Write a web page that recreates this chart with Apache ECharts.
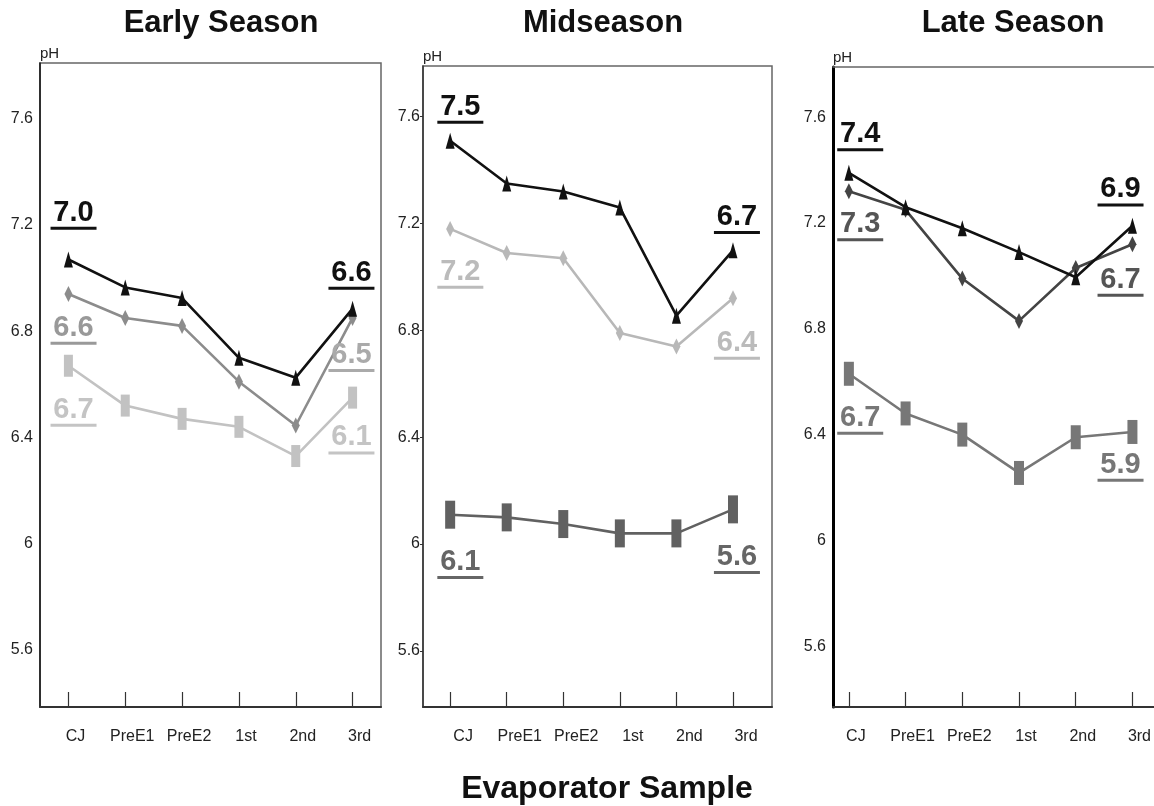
<!DOCTYPE html>
<html>
<head>
<meta charset="UTF-8" />
<title>Evaporator pH by season</title>
<script src="https://cdn.jsdelivr.net/npm/echarts@6/dist/echarts.min.js"></script>
<style>
  html, body { margin: 0; padding: 0; background: #fff; }
  #chart { width: 1154px; height: 806px; }
</style>
</head>
<body>
<div id="chart"></div>
<script>
// categories on the x axis
var categories = ['CJ', 'PreE1', 'PreE2', '1st', '2nd', '3rd'];
var panelTitles = ['Early Season', 'Midseason', 'Late Season'];
var yTicks = [5.6, 6, 6.4, 6.8, 7.2, 7.6];

// pH readings, one array per line (triangle / diamond / bar marker)
var earlyTri = [7.07, 6.965, 6.925, 6.70, 6.625, 6.885];
var earlyDia = [6.94, 6.85, 6.82, 6.61, 6.445, 6.85];
var earlySq  = [6.67, 6.52, 6.47, 6.44, 6.33, 6.55];

var midTri = [7.51, 7.35, 7.32, 7.26, 6.855, 7.10];
var midDia = [7.18, 7.09, 7.07, 6.79, 6.74, 6.92];
var midSq  = [6.11, 6.10, 6.075, 6.04, 6.04, 6.13];

var lateTri = [7.39, 7.26, 7.18, 7.09, 6.995, 7.19];
var lateDia = [7.32, 7.25, 6.99, 6.83, 7.03, 7.12];
var lateSq  = [6.63, 6.48, 6.40, 6.255, 6.39, 6.41];

// underlined numbers printed beside the lines: [left, right] per line
var earlyNotes = [['7.0', '6.6'], ['6.6', '6.5'], ['6.7', '6.1']];
var midNotes   = [['7.5', '6.7'], ['7.2', '6.4'], ['6.1', '5.6']];
var lateNotes  = [['7.4', '6.9'], ['7.3', '6.7'], ['6.7', '5.9']];
// where those numbers sit (pH units), [left, right] per line
var earlyNoteY = [[7.246, 7.02], [6.813, 6.71], [6.504, 6.40]];
var midNoteY   = [[7.637, 7.225], [7.02, 6.754], [5.933, 5.952]];
var lateNoteY  = [[7.536, 7.327], [7.195, 6.986], [6.464, 6.286]];

var panels = [
  { tri: earlyTri, dia: earlyDia, sq: earlySq, notes: earlyNotes, noteY: earlyNoteY,
    colors: ['#111', '#8c8c8c', '#c2c2c2'], noteColors: [['#111', '#111'], ['#999', '#aaa'], ['#c4c4c4', '#c4c4c4']],
    grid: { left: 40, top: 63, width: 341, height: 644 }, xr: [-0.5, 5.5], yr: [5.385, 7.81], box: true,
    noteX: [0.09, 4.98], sqSize: [9, 22], labelShift: 14, yAxisColor: '#111', yAxisWidth: 1.5, yTick: false },
  { tri: midTri, dia: midDia, sq: midSq, notes: midNotes, noteY: midNoteY,
    colors: ['#111', '#b8b8b8', '#616161'], noteColors: [['#111', '#111'], ['#bbb', '#bbb'], ['#666', '#666']],
    grid: { left: 423, top: 66, width: 349, height: 641 }, xr: [-0.48, 5.69], yr: [5.39, 7.79], box: true,
    noteX: [0.18, 5.07], sqSize: [10, 28], labelShift: 26, yAxisColor: '#333', yAxisWidth: 1.5, yTick: true },
  { tri: lateTri, dia: lateDia, sq: lateSq, notes: lateNotes, noteY: lateNoteY,
    colors: ['#111', '#444', '#777'], noteColors: [['#111', '#111'], ['#555', '#555'], ['#777', '#777']],
    grid: { left: 833, top: 67, width: 321, height: 640 }, xr: [-0.28, 5.37], yr: [5.37, 7.79], box: false,
    noteX: [0.2, 4.79], sqSize: [10, 24], labelShift: 14, yAxisColor: '#000', yAxisWidth: 3, yTick: false }
];

function pairs(arr) {
  return arr.map(function (v, i) { return [i, v]; });
}

var chart = echarts.init(document.getElementById('chart'));
var grids = [], xAxes = [], yAxes = [], series = [];
var titleX = [216, 598, 1008];
var titles = panelTitles.map(function (t, i) {
  return { text: t, left: titleX[i], top: 3, textAlign: 'center',
    textStyle: { fontFamily: 'Liberation Sans', fontWeight: 'bold', fontSize: 31, color: '#111' } };
});
titles.push({ text: 'Evaporator Sample', left: 602, top: 768, textAlign: 'center',
  textStyle: { fontFamily: 'Liberation Sans', fontWeight: 'bold', fontSize: 32, color: '#111' } });

panels.forEach(function (p, i) {
  grids.push({ left: p.grid.left, top: p.grid.top, width: p.grid.width, height: p.grid.height,
    show: p.box, borderColor: '#666', borderWidth: 1.5, containLabel: false });
  xAxes.push({
    type: 'value', gridIndex: i, min: p.xr[0], max: p.xr[1],
    axisLine: { show: true, onZero: false, lineStyle: { color: '#333', width: 2 } },
    axisTick: { show: true, inside: true, length: 15, customValues: [0, 1, 2, 3, 4, 5],
      lineStyle: { color: '#333', width: 1.2 } },
    axisLabel: { customValues: [0, 1, 2, 3, 4, 5], margin: 22, fontSize: 16, color: '#222',
      fontFamily: 'Liberation Sans', padding: [0, 0, 0, p.labelShift],
      formatter: function (v) { return categories[Math.round(v)]; } },
    splitLine: { show: false }
  });
  yAxes.push({
    type: 'value', gridIndex: i, min: p.yr[0], max: p.yr[1],
    name: 'pH', nameLocation: 'end', nameGap: 2,
    nameTextStyle: { align: 'left', fontSize: 15, color: '#222', fontFamily: 'Liberation Sans' },
    axisLine: { show: true, onZero: false, lineStyle: { color: p.yAxisColor, width: p.yAxisWidth } },
    axisTick: { show: p.yTick, length: 3, customValues: yTicks, lineStyle: { color: '#333' } },
    axisLabel: { customValues: yTicks, margin: p.yTick ? 3 : 7, fontSize: 16, color: '#222',
      fontFamily: 'Liberation Sans', formatter: function (v) { return String(v); } },
    splitLine: { show: false }
  });
  var defs = [
    { data: p.tri, symbol: 'triangle', size: [9, 16] },
    { data: p.dia, symbol: 'diamond', size: [8, 16] },
    { data: p.sq, symbol: 'rect', size: p.sqSize }
  ];
  defs.forEach(function (d, k) {
    series.push({
      type: 'line', xAxisIndex: i, yAxisIndex: i, data: pairs(d.data),
      symbol: d.symbol, symbolSize: d.size, showSymbol: true,
      lineStyle: { color: p.colors[k], width: 2.6 },
      itemStyle: { color: p.colors[k], borderWidth: 0 },
      z: 5 - k, animation: false
    });
  });
});

// late season panel runs off the right edge: only a top rule, no right border
xAxes.push({
  type: 'value', gridIndex: 2, position: 'top', min: 0, max: 1,
  axisLine: { show: true, lineStyle: { color: '#666', width: 1.5 } },
  axisTick: { show: false }, axisLabel: { show: false }, splitLine: { show: false }
});

chart.setOption({
  backgroundColor: '#fff',
  animation: false,
  title: titles,
  grid: grids,
  xAxis: xAxes,
  yAxis: yAxes,
  series: series
});

// underlined value labels, placed through the axes of each panel
var graphics = [];
panels.forEach(function (p, i) {
  p.notes.forEach(function (pair, k) {
    pair.forEach(function (txt, side) {
      var pt = chart.convertToPixel({ gridIndex: i }, [p.noteX[side], p.noteY[k][side]]);
      var col = p.noteColors[k][side];
      graphics.push({
        type: 'text', x: pt[0], y: pt[1], z: 20,
        style: { text: txt, fill: col, font: 'bold 29px "Liberation Sans"',
          align: 'center', verticalAlign: 'middle', textAlign: 'center', textVerticalAlign: 'middle' }
      });
      graphics.push({
        type: 'rect', z: 20,
        shape: { x: pt[0] - 23, y: pt[1] + 14, width: 46, height: 3 },
        style: { fill: col }
      });
    });
  });
});
chart.setOption({ graphic: graphics });
</script>
</body>
</html>
